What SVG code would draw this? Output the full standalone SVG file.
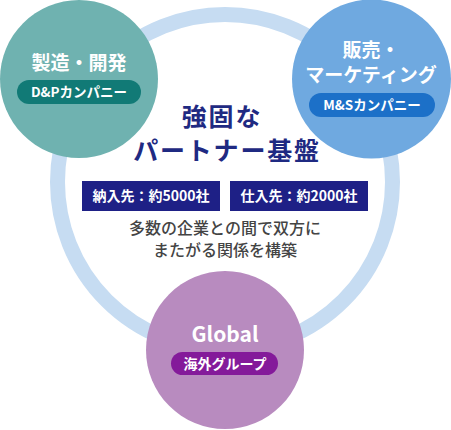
<svg xmlns="http://www.w3.org/2000/svg" width="451" height="430" viewBox="0 0 451 430">
<style>
text{font-family:"Noto Sans CJK JP","Noto Sans",sans-serif;text-anchor:middle}
.w{fill:#fff;font-weight:700}
.h{font-size:19px}
.p{font-size:13.5px}
.t{fill:#1f2a82;font-weight:700;font-size:25px;letter-spacing:1.8px}
.b{fill:#fff;font-weight:700;font-size:14px}
.g{fill:#444;font-size:16px;font-weight:500}
</style>
<rect width="451" height="430" fill="#fff"/>
<g id="connectors">
<circle cx="225" cy="182" r="167.5" fill="none" stroke="#c6dcf2" stroke-width="15"/>
</g>
<g id="center">
<text class="t" x="222" y="126">強固な</text>
<text class="t" x="227" y="160">パートナー基盤</text>
<rect x="82" y="181" width="138" height="30" fill="#1e2086"/>
<text class="b" x="151" y="201">納入先：約5000社</text>
<rect x="230" y="181" width="138" height="30" fill="#1e2086"/>
<text class="b" x="299" y="201">仕入先：約2000社</text>
<text class="g" x="225" y="234">多数の企業との間で双方に</text>
<text class="g" x="225" y="256">またがる関係を構築</text>
</g>
<g id="dp">
<circle cx="79" cy="79" r="79" fill="#6fb2b0"/>
<text class="w h" x="79" y="70">製造・開発</text>
<rect x="17" y="80" width="124" height="24" rx="12" fill="#117a76"/>
<text class="w p" x="79" y="97">D&amp;Pカンパニー</text>
</g>
<g id="ms">
<circle cx="371.5" cy="79" r="79.5" fill="#6fa9e0"/>
<text class="w h" x="371" y="57">販売・</text>
<text class="w h" x="371" y="82">マーケティング</text>
<rect x="309" y="93" width="126" height="24" rx="12" fill="#1c70c8"/>
<text class="w p" x="372" y="110">M&amp;Sカンパニー</text>
</g>
<g id="global">
<circle cx="225" cy="350" r="79" fill="#b88bbf"/>
<text class="w" x="225" y="342" font-size="21">Global</text>
<rect x="171" y="352" width="107" height="23" rx="11.5" fill="#841a9a"/>
<text class="w" x="225" y="369" font-size="14">海外グループ</text>
</g>
</svg>
